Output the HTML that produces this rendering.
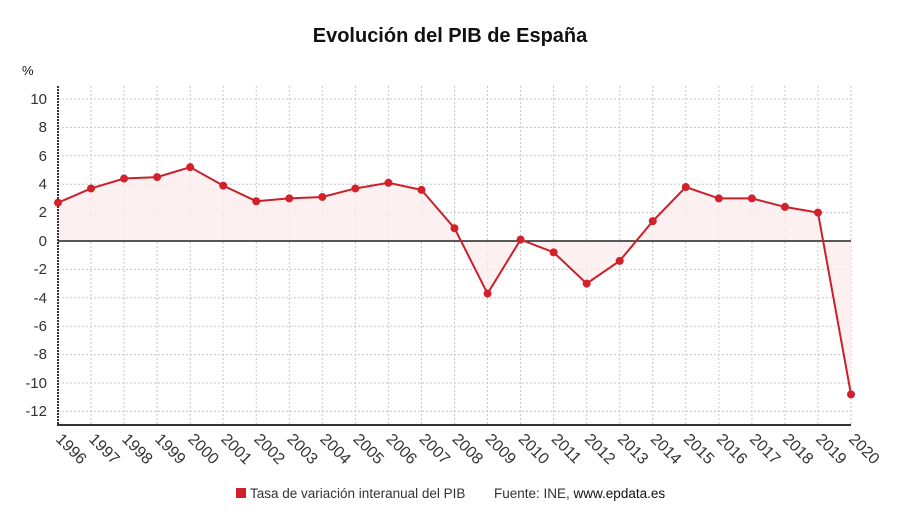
<!DOCTYPE html>
<html><head><meta charset="utf-8"><style>
body{margin:0;background:#fff;}
svg{display:block;font-family:"Liberation Sans",sans-serif;}
</style></head><body>
<svg width="900" height="528" viewBox="0 0 900 528">
<text x="450" y="42" text-anchor="middle" font-size="20" font-weight="bold" fill="#111">Evolución del PIB de España</text>
<text x="22" y="75" font-size="13" fill="#111">%</text>
<g stroke="#c8c8c8" stroke-width="1" stroke-dasharray="2,2">
<line x1="58" x2="851" y1="99" y2="99"/><line x1="58" x2="851" y1="127.4" y2="127.4"/><line x1="58" x2="851" y1="155.8" y2="155.8"/><line x1="58" x2="851" y1="184.2" y2="184.2"/><line x1="58" x2="851" y1="212.6" y2="212.6"/><line x1="58" x2="851" y1="269.4" y2="269.4"/><line x1="58" x2="851" y1="297.8" y2="297.8"/><line x1="58" x2="851" y1="326.2" y2="326.2"/><line x1="58" x2="851" y1="354.6" y2="354.6"/><line x1="58" x2="851" y1="383" y2="383"/><line x1="58" x2="851" y1="411.4" y2="411.4"/>
<line x1="91" x2="91" y1="86" y2="425"/><line x1="124.1" x2="124.1" y1="86" y2="425"/><line x1="157.1" x2="157.1" y1="86" y2="425"/><line x1="190.2" x2="190.2" y1="86" y2="425"/><line x1="223.2" x2="223.2" y1="86" y2="425"/><line x1="256.3" x2="256.3" y1="86" y2="425"/><line x1="289.3" x2="289.3" y1="86" y2="425"/><line x1="322.3" x2="322.3" y1="86" y2="425"/><line x1="355.4" x2="355.4" y1="86" y2="425"/><line x1="388.4" x2="388.4" y1="86" y2="425"/><line x1="421.5" x2="421.5" y1="86" y2="425"/><line x1="454.5" x2="454.5" y1="86" y2="425"/><line x1="487.5" x2="487.5" y1="86" y2="425"/><line x1="520.6" x2="520.6" y1="86" y2="425"/><line x1="553.6" x2="553.6" y1="86" y2="425"/><line x1="586.7" x2="586.7" y1="86" y2="425"/><line x1="619.7" x2="619.7" y1="86" y2="425"/><line x1="652.8" x2="652.8" y1="86" y2="425"/><line x1="685.8" x2="685.8" y1="86" y2="425"/><line x1="718.8" x2="718.8" y1="86" y2="425"/><line x1="751.9" x2="751.9" y1="86" y2="425"/><line x1="784.9" x2="784.9" y1="86" y2="425"/><line x1="818" x2="818" y1="86" y2="425"/><line x1="851" x2="851" y1="86" y2="425"/>
</g>
<polygon fill="#fdecec" opacity="0.8" points="58,241 58,202.66 91.04,188.46 124.08,178.52 157.12,177.1 190.17,167.16 223.21,185.62 256.25,201.24 289.29,198.4 322.33,196.98 355.37,188.46 388.42,182.78 421.46,189.88 454.5,228.22 487.54,293.54 520.58,239.58 553.62,252.36 586.67,283.6 619.71,260.88 652.75,221.12 685.79,187.04 718.83,198.4 751.87,198.4 784.92,206.92 817.96,212.6 851,394.36 851,241"/>
<line x1="58" x2="851" y1="241" y2="241" stroke="#222" stroke-width="1.5"/>
<line x1="58" x2="58" y1="86" y2="425" stroke="#333" stroke-width="2" stroke-dasharray="2,1"/>
<line x1="57" x2="851" y1="425" y2="425" stroke="#333" stroke-width="2"/>
<g font-size="15" fill="#333" text-anchor="end">
<text x="47" y="104">10</text><text x="47" y="132">8</text><text x="47" y="161">6</text><text x="47" y="189">4</text><text x="47" y="217">2</text><text x="47" y="246">0</text><text x="47" y="274">-2</text><text x="47" y="303">-4</text><text x="47" y="331">-6</text><text x="47" y="359">-8</text><text x="47" y="388">-10</text><text x="47" y="416">-12</text>
</g>
<polyline fill="none" stroke="#c9202a" stroke-width="2" points="58,202.66 91.04,188.46 124.08,178.52 157.12,177.1 190.17,167.16 223.21,185.62 256.25,201.24 289.29,198.4 322.33,196.98 355.37,188.46 388.42,182.78 421.46,189.88 454.5,228.22 487.54,293.54 520.58,239.58 553.62,252.36 586.67,283.6 619.71,260.88 652.75,221.12 685.79,187.04 718.83,198.4 751.87,198.4 784.92,206.92 817.96,212.6 851,394.36"/>
<g fill="#d4202a">
<circle cx="58" cy="202.66" r="4"/><circle cx="91.04" cy="188.46" r="4"/><circle cx="124.08" cy="178.52" r="4"/><circle cx="157.12" cy="177.1" r="4"/><circle cx="190.17" cy="167.16" r="4"/><circle cx="223.21" cy="185.62" r="4"/><circle cx="256.25" cy="201.24" r="4"/><circle cx="289.29" cy="198.4" r="4"/><circle cx="322.33" cy="196.98" r="4"/><circle cx="355.37" cy="188.46" r="4"/><circle cx="388.42" cy="182.78" r="4"/><circle cx="421.46" cy="189.88" r="4"/><circle cx="454.5" cy="228.22" r="4"/><circle cx="487.54" cy="293.54" r="4"/><circle cx="520.58" cy="239.58" r="4"/><circle cx="553.62" cy="252.36" r="4"/><circle cx="586.67" cy="283.6" r="4"/><circle cx="619.71" cy="260.88" r="4"/><circle cx="652.75" cy="221.12" r="4"/><circle cx="685.79" cy="187.04" r="4"/><circle cx="718.83" cy="198.4" r="4"/><circle cx="751.87" cy="198.4" r="4"/><circle cx="784.92" cy="206.92" r="4"/><circle cx="817.96" cy="212.6" r="4"/><circle cx="851" cy="394.36" r="4"/>
</g>
<g font-size="16" fill="#333">
<text transform="translate(55,440) rotate(45)">1996</text>
<text transform="translate(88,440) rotate(45)">1997</text>
<text transform="translate(121.1,440) rotate(45)">1998</text>
<text transform="translate(154.1,440) rotate(45)">1999</text>
<text transform="translate(187.2,440) rotate(45)">2000</text>
<text transform="translate(220.2,440) rotate(45)">2001</text>
<text transform="translate(253.3,440) rotate(45)">2002</text>
<text transform="translate(286.3,440) rotate(45)">2003</text>
<text transform="translate(319.3,440) rotate(45)">2004</text>
<text transform="translate(352.4,440) rotate(45)">2005</text>
<text transform="translate(385.4,440) rotate(45)">2006</text>
<text transform="translate(418.5,440) rotate(45)">2007</text>
<text transform="translate(451.5,440) rotate(45)">2008</text>
<text transform="translate(484.5,440) rotate(45)">2009</text>
<text transform="translate(517.6,440) rotate(45)">2010</text>
<text transform="translate(550.6,440) rotate(45)">2011</text>
<text transform="translate(583.7,440) rotate(45)">2012</text>
<text transform="translate(616.7,440) rotate(45)">2013</text>
<text transform="translate(649.8,440) rotate(45)">2014</text>
<text transform="translate(682.8,440) rotate(45)">2015</text>
<text transform="translate(715.8,440) rotate(45)">2016</text>
<text transform="translate(748.9,440) rotate(45)">2017</text>
<text transform="translate(781.9,440) rotate(45)">2018</text>
<text transform="translate(815,440) rotate(45)">2019</text>
<text transform="translate(848,440) rotate(45)">2020</text>
</g>
<rect x="236" y="488" width="10" height="10" fill="#d4202a"/>
<text x="250" y="498" font-size="13.5" fill="#333">Tasa de variación interanual del PIB</text>
<text x="494" y="498" font-size="13.5" fill="#333">Fuente: INE, <tspan fill="#111">www.epdata.es</tspan></text>
</svg>
</body></html>
